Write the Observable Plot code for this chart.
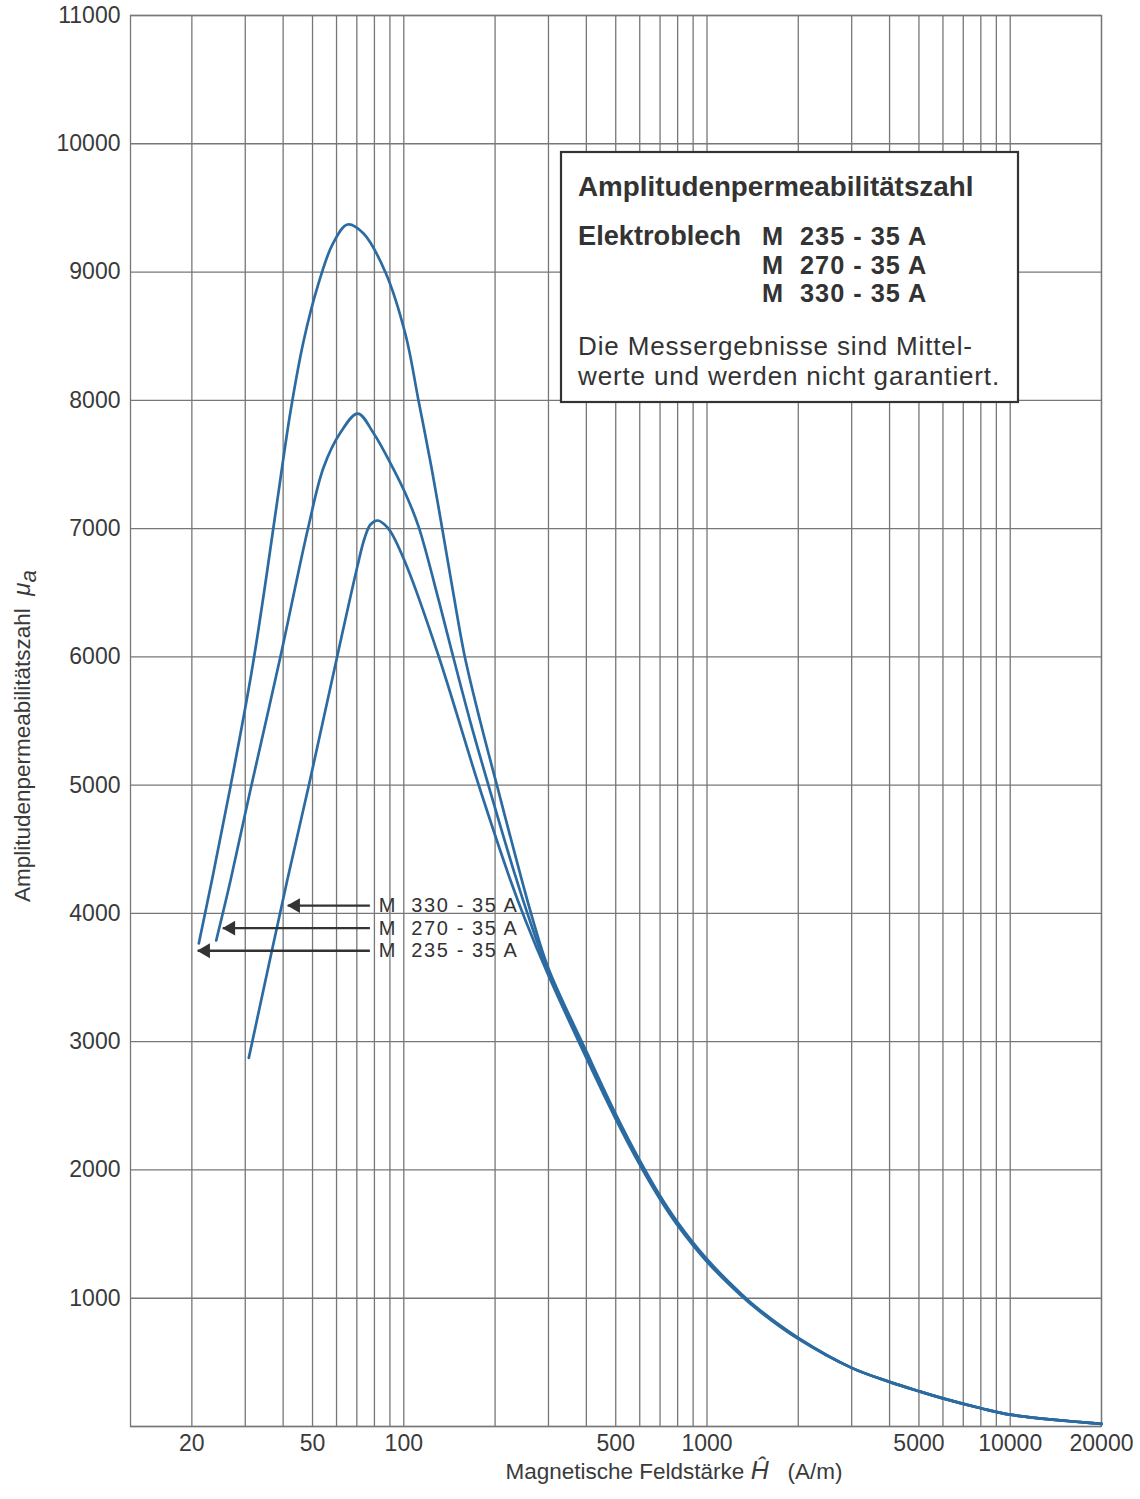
<!DOCTYPE html>
<html>
<head>
<meta charset="utf-8">
<script src="https://cdn.jsdelivr.net/npm/d3@7"></script>
<script src="https://cdn.jsdelivr.net/npm/@observablehq/plot@0.6"></script>
<style>
  body { margin: 0; background: #fff; }
  svg { display: block; }
</style>
</head>
<body>
<div id="chart"></div>
<script>
// ---------- data ----------
const seriesNames = ["M 235 - 35 A", "M 270 - 35 A", "M 330 - 35 A"];

const h235  = [21.08, 23.39, 26.82, 31.46, 35.26, 38.61, 42.30, 46.69, 52.33, 58.20, 65.22, 73.65, 87.03, 101.3, 111.8, 123.4, 134.2, 145.9, 158.6, 179.1, 203.7, 233.6, 265.8, 300, 400, 500, 600, 700, 800, 1000, 1300, 1500, 2000, 3000, 4000, 5000, 6000, 8000, 10000, 20000];
const mu235 = [3766, 4280, 4990, 5878, 6634, 7282, 7913, 8459, 8911, 9215, 9371, 9301, 8997, 8513, 7999, 7476, 6985, 6486, 6011, 5488, 4982, 4444, 3960, 3571, 2924, 2436, 2074, 1799, 1592, 1304, 1032, 904, 691, 457, 348, 275, 219, 142, 92, 21];

const h270  = [24.06, 26.82, 31.22, 39.20, 48.31, 54.36, 61.83, 70.51, 79.61, 90.40, 102.6, 112.1, 130.4, 143.7, 166.0, 190.3, 233.6, 261.7, 300, 400, 500, 600, 700, 800, 1000, 1300, 1500, 2000, 3000, 4000, 5000, 6000, 8000, 10000, 20000];
const mu270 = [3789, 4257, 4966, 6003, 7001, 7476, 7749, 7897, 7741, 7508, 7243, 7009, 6440, 6050, 5488, 4997, 4288, 3929, 3542, 2898, 2417, 2057, 1785, 1579, 1294, 1024, 899, 687, 457, 348, 275, 219, 142, 92, 21];

const h330  = [30.82, 41.25, 48.61, 60.30, 70.19, 74.19, 77.65, 81.91, 86.38, 90.40, 102.6, 130.4, 176.8, 224.9, 252.0, 300, 400, 500, 600, 700, 800, 1000, 1300, 1500, 2000, 3000, 4000, 5000, 6000, 8000, 10000, 20000];
const mu330 = [2874, 4257, 4997, 6003, 6699, 6923, 7032, 7063, 7032, 6977, 6699, 6003, 4997, 4257, 3945, 3516, 2873, 2397, 2041, 1771, 1567, 1284, 1017, 893, 683, 457, 348, 275, 219, 142, 92, 21];

const xTickValues = [20, 50, 100, 500, 1000, 5000, 10000, 20000];
const xGridValues = [20, 30, 40, 50, 60, 70, 80, 90, 100, 200, 300, 400, 500, 600, 700, 800, 900, 1000, 2000, 3000, 4000, 5000, 6000, 7000, 8000, 9000, 10000, 20000];
const yTickValues = [1000, 2000, 3000, 4000, 5000, 6000, 7000, 8000, 9000, 10000, 11000];
const yGridValues = [0, 1000, 2000, 3000, 4000, 5000, 6000, 7000, 8000, 9000, 10000, 11000];

// arrow annotations (data coordinates)
const arrowLabels = ["M\u00a0\u00a0330 - 35 A", "M\u00a0\u00a0270 - 35 A", "M\u00a0\u00a0235 - 35 A"];
const arrowMu     = [4061, 3885, 3709];
const arrowTipH   = [41.4, 25.3, 20.9];
const arrowTailH  = [77.3, 77.3, 77.3];
const arrowTextH  = [82.7, 82.7, 82.7];

const xLabel = "Magnetische Feldstärke Ĥ\u00a0\u00a0(A/m)";
const yLabel = "Amplitudenpermeabilitätszahl\u00a0\u00a0μa";

const boxTitle = "Amplitudenpermeabilitätszahl";
const boxMaterial = "Elektroblech";
const boxGrades = ["235 - 35 A", "270 - 35 A", "330 - 35 A"];
const boxNote = ["Die Messergebnisse sind Mittel-", "werte und werden nicht garantiert."];

// ---------- build tables ----------
const hs = [h235, h270, h330];
const mus = [mu235, mu270, mu330];
const curveData = seriesNames.flatMap((s, k) => hs[k].map((h, i) => ({series: s, H: h, mu: mus[k][i]})));
const arrowData = arrowLabels.map((l, i) => ({label: l, mu: arrowMu[i], tip: arrowTipH[i], tail: arrowTailH[i], tx: arrowTextH[i]}));

const gridColor = "#777777";
const curveColor = "#2c6ba1";
const inkColor = "#333333";
const labelColor = "#3a3a3a";
const fontFamily = "'Liberation Sans', Arial, Helvetica, sans-serif";

const chart = Plot.plot({
  width: 1140,
  height: 1499,
  marginLeft: 130,
  marginRight: 39,
  marginTop: 15,
  marginBottom: 73,
  style: {fontFamily, fontSize: "23px", color: labelColor, background: "#fff"},
  x: {type: "log", domain: [12.55, 20000], axis: null},
  y: {domain: [0, 11000]},
  marks: [
    Plot.ruleX(xGridValues, {stroke: gridColor, strokeWidth: 1.3}),
    Plot.ruleY(yGridValues, {stroke: gridColor, strokeWidth: 1.3}),
    Plot.frame({stroke: gridColor, strokeWidth: 1.3}),
    Plot.text(xTickValues, {x: d => d, text: d => String(d), frameAnchor: "bottom", lineAnchor: "top", textAnchor: "middle", dy: 8, fontSize: 23, fill: labelColor}),
    Plot.axisY({ticks: yTickValues, tickSize: 0, tickPadding: 10, tickFormat: d => String(d), label: null, fontSize: 23}),
    Plot.line(curveData, {x: "H", y: "mu", z: "series", stroke: curveColor, strokeWidth: 2.7, curve: "catmull-rom"}),
    Plot.link(arrowData, {x1: "tail", y1: "mu", x2: "tip", y2: "mu", stroke: inkColor, strokeWidth: 2.4}),
    Plot.dot(arrowData, {x: "tip", y: "mu", symbol: "triangle", rotate: -90, r: 5.5, fill: inkColor, strokeWidth: 0, dx: 8}),
    Plot.text(arrowData, {x: "tx", y: "mu", text: "label", textAnchor: "start", lineAnchor: "middle", fontSize: 20, fill: inkColor}),
    Plot.text([yLabel], {frameAnchor: "left", text: d => d, textAnchor: "middle", rotate: -90, dx: -108, dy: 15, fontSize: 22.5, fill: labelColor}),
    Plot.text([xLabel], {frameAnchor: "bottom", text: d => d, textAnchor: "start", dx: -110.5, dy: 52, fontSize: 22.5, fill: labelColor})
  ]
});

// ---------- rich text for the axis labels, spacing of arrow labels ----------
const svg = d3.select(chart);
svg.selectAll("text").each(function () {
  const t = d3.select(this);
  const content = this.textContent;
  if (content === xLabel) {
    t.text(null);
    t.append("tspan").text("Magnetische Feldstärke\u00a0");
    t.append("tspan").attr("font-style", "italic").attr("font-size", "25px").text("Ĥ");
    t.append("tspan").text("\u00a0\u00a0\u00a0(A/m)");
  } else if (content === yLabel) {
    t.text(null);
    t.append("tspan").text("Amplitudenpermeabilitätszahl\u00a0\u00a0");
    t.append("tspan").attr("font-style", "italic").attr("font-size", "24px").text("μ");
    t.append("tspan").attr("font-style", "italic").attr("dy", "0.3em").text("a");
  } else if (arrowLabels.includes(content)) {
    t.attr("letter-spacing", "1.6px");
  }
});

// ---------- legend box inside the plot ----------
const box = svg.append("g")
  .attr("font-family", fontFamily)
  .attr("fill", inkColor)
  .attr("text-anchor", "start");
box.append("rect").attr("x", 561).attr("y", 152).attr("width", 457).attr("height", 250)
  .attr("fill", "#fff").attr("stroke", inkColor).attr("stroke-width", 2.2);
box.append("text").attr("x", 578).attr("y", 196).attr("font-size", 27.8).attr("font-weight", "bold").text(boxTitle);
box.append("text").attr("x", 578).attr("y", 245).attr("font-size", 27.2).attr("font-weight", "bold").text(boxMaterial);

const rowY = [245, 273.5, 302];
boxGrades.forEach((g, i) => {
  box.append("text").attr("x", 762).attr("y", rowY[i]).attr("font-size", 25.3).attr("font-weight", "bold").text("M");
  box.append("text").attr("x", 800).attr("y", rowY[i]).attr("font-size", 25.3).attr("font-weight", "bold")
    .attr("letter-spacing", "1px").text(g);
});

const noteY = [355, 385];
boxNote.forEach((n, i) => {
  box.append("text").attr("x", 578).attr("y", noteY[i]).attr("font-size", 26)
    .attr("letter-spacing", "0.85px").text(n);
});

document.getElementById("chart").append(chart);
</script>
</body>
</html>
